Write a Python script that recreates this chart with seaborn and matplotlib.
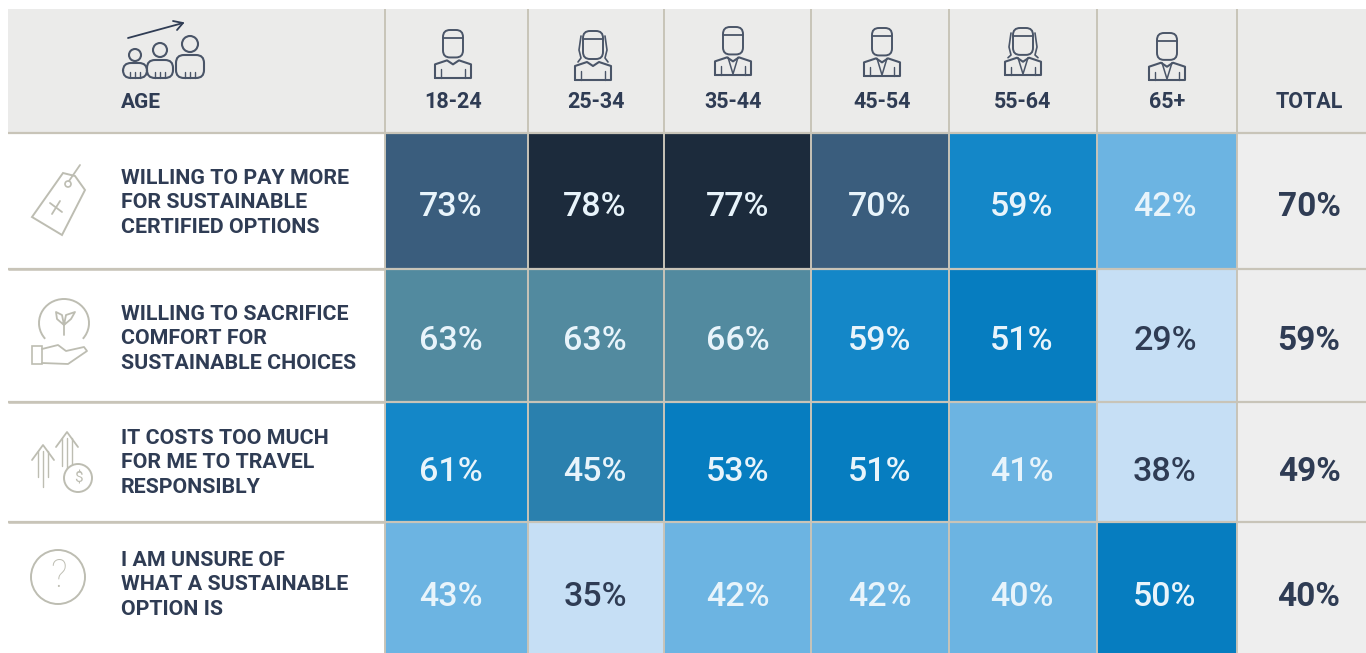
import numpy as np
import pandas as pd
import matplotlib
matplotlib.use("Agg")
import matplotlib.pyplot as plt
from matplotlib.colors import ListedColormap, BoundaryNorm
from matplotlib.patches import Circle, Rectangle, FancyBboxPatch, Polygon, Arc
import seaborn as sns

ages = ["18-24", "25-34", "35-44", "45-54", "55-64", "65+"]
statements = [
    "WILLING TO PAY MORE\nFOR SUSTAINABLE\nCERTIFIED OPTIONS",
    "WILLING TO SACRIFICE\nCOMFORT FOR\nSUSTAINABLE CHOICES",
    "IT COSTS TOO MUCH\nFOR ME TO TRAVEL\nRESPONSIBLY",
    "I AM UNSURE OF\nWHAT A SUSTAINABLE\nOPTION IS",
]
row_1 = [73, 78, 77, 70, 59, 42]
row_2 = [63, 63, 66, 59, 51, 29]
row_3 = [61, 45, 53, 51, 41, 38]
row_4 = [43, 35, 42, 42, 40, 50]
totals = [70, 59, 49, 40]

band_edges = [0, 39.5, 44, 48, 55, 62, 68, 75, 100]
band_colors = ["#c6dff5", "#6cb4e2", "#2a80ae", "#067dc0", "#1487c8", "#528a9f", "#3a5d7d", "#1c2b3c"]

sns.set_theme(style="white")
FONT = ["Roboto", "DejaVu Sans"]
INK = "#2f3c54"
LINE = "#4a5568"
GRID = "#c8c4b8"
ICON = "#bdbdb2"
W, H = 1366, 653
col_px = [385, 528, 664, 811, 949, 1097, 1237]
row_px = [133, 269, 402, 522, 653]
val_x_px = [451, 595, 738, 880, 1022, 1165]
val_y_px = [207, 341, 472, 597]
label_y_px = [203, 339, 463, 585]
head_x_px = [453, 596, 733, 882, 1023, 1167]

fig = plt.figure(figsize=(W / 100, H / 100), dpi=100, facecolor="white")

def px_axes(x0, y0, x1, y1, z=1):
    return fig.add_axes([x0 / W, 1 - y1 / H, (x1 - x0) / W, (y1 - y0) / H], zorder=z)

bg = px_axes(0, 0, W, H, 0)
bg.set_xlim(0, W); bg.set_ylim(H, 0); bg.axis("off")
bg.add_patch(Rectangle((8, 9), W - 8, 124, fc="#ebebea", ec="none"))
bg.add_patch(Rectangle((1237, 133), W - 1237, H - 133, fc="#eeeeee", ec="none"))

matrix = pd.DataFrame([row_1, row_2, row_3, row_4], columns=ages)
labels = matrix.map(lambda v: f"{v}%").to_numpy()
cmap = ListedColormap(band_colors)
norm = BoundaryNorm(band_edges, cmap.N)

ax = px_axes(col_px[0], row_px[0], col_px[-1], row_px[-1], 2)
sns.heatmap(matrix, ax=ax, cmap=cmap, norm=norm, annot=labels, fmt="", cbar=False,
            xticklabels=False, yticklabels=False,
            annot_kws={"fontsize": 24.5, "family": FONT, "fontweight": "medium"})
# the reference's cells are unequal in size: map cell index to pixel position
cx_idx = np.arange(len(col_px), dtype=float)
ry_idx = np.arange(len(row_px), dtype=float)
ax.set_xscale("function", functions=(lambda v: np.interp(v, cx_idx, col_px),
                                     lambda p: np.interp(p, col_px, cx_idx)))
ax.set_yscale("function", functions=(lambda v: np.interp(v, ry_idx, row_px),
                                     lambda p: np.interp(p, row_px, ry_idx)))
ax.set_xlim(0, 6); ax.set_ylim(4, 0)
ax.set_xticks([]); ax.set_yticks([]); ax.minorticks_off()
ax.set_xlabel(""); ax.set_ylabel("")
for n, t in enumerate(ax.texts):
    i, j = divmod(n, 6)
    t.set_position((np.interp(val_x_px[j], col_px, cx_idx), np.interp(val_y_px[i], row_px, ry_idx)))
    t.set_color(INK if matrix.iat[i, j] < 39.5 else "#e8f4fb")

fg = px_axes(0, 0, W, H, 3)
fg.set_xlim(0, W); fg.set_ylim(H, 0); fg.axis("off"); fg.patch.set_alpha(0)

for y in row_px[:-1]:
    fg.plot([8, W], [y, y], color=GRID, lw=1.6, solid_capstyle="butt")
for y in row_px[1:-1]:
    fg.plot([8, 385], [y, y], color=GRID, lw=1.8, solid_capstyle="butt")
for x in col_px:
    fg.plot([x, x], [9, H], color=GRID, lw=1.4, solid_capstyle="butt")

fg.text(121, 108, "AGE", family=FONT, fontsize=15, fontweight="bold", color=INK, va="baseline")
for x, a in zip(head_x_px, ages):
    fg.text(x, 108, a, family=FONT, fontsize=15.5, fontweight="bold", color=INK, ha="center", va="baseline")
fg.text(1309, 108, "TOTAL", family=FONT, fontsize=15.5, fontweight="bold", color=INK, ha="center", va="baseline")
for i, s in enumerate(statements):
    fg.text(121, label_y_px[i], s, family=FONT, fontsize=15.4, fontweight="bold", color=INK,
            va="center", linespacing=1.37)
    fg.text(1309, val_y_px[i], f"{totals[i]}%", family=FONT, fontsize=24, fontweight="bold",
            color=INK, ha="center", va="center")

# --- decorative icons ---
def line(pts, c=LINE, lw=1.3):
    p = np.array(pts)
    fg.plot(p[:, 0], p[:, 1], color=c, lw=lw, solid_capstyle="round", solid_joinstyle="round")

def person(cx, top, bottom, hair=False, suit=False):
    h = bottom - top
    fg.add_patch(FancyBboxPatch((cx - 10, top + 1), 20, h * .56, boxstyle="round,pad=0,rounding_size=7",
                                fc="none", ec=LINE, lw=1.4))
    line([(cx - 10, top + h * .18), (cx + 10, top + h * .18)])
    shoulder = top + h * .64
    line([(cx - 18, bottom), (cx - 18, shoulder + 4), (cx - 6, shoulder), (cx, shoulder + 4),
          (cx + 6, shoulder), (cx + 18, shoulder + 4), (cx + 18, bottom), (cx - 18, bottom)], LINE, 1.5)
    line([(cx - 12, shoulder + 9), (cx - 12, bottom)], LINE, 1)
    line([(cx + 12, shoulder + 9), (cx + 12, bottom)], LINE, 1)
    if suit:
        line([(cx - 5, shoulder), (cx, bottom - 1), (cx + 5, shoulder)], LINE, 1.1)
    if hair:
        line([(cx - 12, top + 6), (cx - 14, top + 20), (cx - 12, top + 28), (cx - 15, shoulder)], LINE, 1.2)
        line([(cx + 12, top + 6), (cx + 14, top + 20), (cx + 12, top + 28), (cx + 15, shoulder)], LINE, 1.2)

person(453, 29, 78)
person(593, 30, 80, hair=True)
person(733, 26, 75, suit=True)
person(882, 27, 76, suit=True)
person(1023, 27, 75, hair=True, suit=True)
person(1167, 32, 80, suit=True)

line([(128, 38), (183, 23)], INK, 1.3)
line([(173, 21), (183, 23), (177, 30)], INK, 1.3)
for cx, cy, r in [(135, 55, 6), (160, 50, 7), (190, 44, 8)]:
    fg.add_patch(Circle((cx, cy), r, fc="none", ec=LINE, lw=1.5))
for cx, w, t in [(135, 12, 63), (160, 13, 60), (190, 14, 55)]:
    fg.add_patch(FancyBboxPatch((cx - w, t), 2 * w, 78 - t, boxstyle="round,pad=0,rounding_size=8",
                                fc="none", ec=LINE, lw=1.5))
    for d in (-5, 0, 5):
        line([(cx + d, 72), (cx + d, 78)], LINE, 1)

fg.add_patch(Polygon([(63, 173), (75, 176), (85, 190), (62, 235), (32, 217)], closed=True, fc="none", ec=ICON, lw=1.4))
fg.add_patch(Circle((68, 184), 3, fc="none", ec=ICON, lw=1.2))
line([(69, 181), (80, 165)], ICON)
line([(50, 203), (62, 212)], ICON); line([(60, 201), (52, 214)], ICON)

fg.add_patch(Arc((64, 323), 50, 48, theta1=140, theta2=40, ec=ICON, lw=1.4))
line([(64, 335), (64, 322)], ICON)
line([(64, 325), (57, 319), (56, 312), (62, 315), (64, 325)], ICON)
line([(64, 325), (71, 319), (75, 312), (66, 315), (64, 325)], ICON)
fg.add_patch(Rectangle((32, 346), 10, 18, fc="none", ec=ICON, lw=1.2))
line([(42, 349), (58, 345), (66, 351), (84, 347), (87, 351), (68, 364), (42, 363)], ICON)

for cx, top, bot in [(43, 445, 487), (67, 432, 476)]:
    line([(cx - 11, top + 15), (cx, top), (cx + 11, top + 15)], ICON)
    for d in (-5, 0, 5):
        line([(cx + d, top + 6), (cx + d, bot - abs(d) * 2)], ICON, 1)
fg.add_patch(Circle((78, 478), 14, fc="white", ec=ICON, lw=1.4, zorder=4))
fg.text(78, 478, "$", fontsize=11, color=ICON, ha="center", va="center", family=FONT, zorder=5)

fg.add_patch(Circle((58, 577), 27, fc="none", ec=ICON, lw=1.4))
fg.text(58, 576, "?", fontsize=27, color=ICON, ha="center", va="center", family=FONT, fontweight="light")

fig.savefig("out.png", dpi=100, facecolor="white")
